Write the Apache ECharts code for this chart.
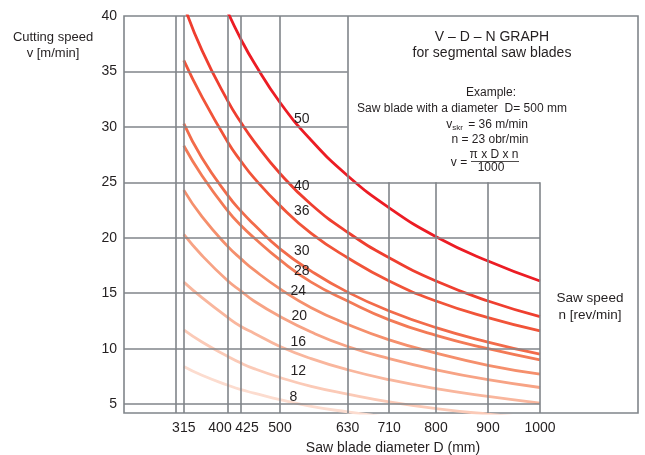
<!DOCTYPE html>
<html>
<head>
<meta charset="utf-8">
<script src="https://cdn.jsdelivr.net/npm/echarts@6/dist/echarts.min.js"></script>
<style>
  html, body { margin: 0; padding: 0; background: #fff; }
  #chart { width: 645px; height: 455px; }
</style>
</head>
<body>
<div id="chart"></div>
<script>
// values (D in mm, v in m/min)
var diameters = [315, 350, 400, 425, 450, 500, 560, 630, 710, 800, 900, 1000];
var speedNames = ['50', '40', '36', '30', '28', '24', '20', '16', '12', '8'];
var v50 = [null, null, 40.3, 37.9, 35.8, 32.2, 28.8, 25.6, 22.7, 20.1, 17.9, 16.1];
var v40 = [41.0, 36.9, 32.3, 30.4, 28.7, 25.8, 23.0, 20.5, 18.2, 16.1, 14.3, 12.9];
var v36 = [36.0, 32.7, 28.6, 26.9, 25.4, 22.9, 20.4, 18.2, 16.1, 14.3, 12.8, 11.6];
var v30 = [30.3, 27.2, 23.8, 22.4, 21.2, 19.0, 17.0, 15.1, 13.4, 11.9, 10.6, 9.5];
var v28 = [28.3, 25.6, 22.4, 21.1, 20.0, 18.0, 16.0, 14.3, 12.6, 11.2, 10.0, 9.0];
var v24 = [24.3, 21.9, 19.2, 18.1, 17.1, 15.4, 13.7, 12.2, 10.8, 9.6, 8.5, 7.7];
var v20 = [20.3, 18.4, 16.1, 15.2, 14.3, 12.9, 11.5, 10.2, 9.1, 8.1, 7.2, 6.5];
var v16 = [16.0, 14.6, 12.8, 12.0, 11.4, 10.2, 9.1, 8.1, 7.2, 6.4, 5.7, 5.1];
var v12 = [11.7, 10.6, 9.3, 8.7, 8.2, 7.4, 6.6, 5.9, 5.2, 4.6, 4.1, 3.7];
var v8 = [8.4, 7.6, 6.7, 6.3, 6.0, 5.4, 4.8, 4.3, 3.8, 3.4, 3.0, null];
var xTicks = [315, 400, 425, 500, 630, 710, 800, 900, 1000];
var yTicks = [5, 10, 15, 20, 25, 30, 35, 40];

var curves = [v50, v40, v36, v30, v28, v24, v20, v16, v12, v8];
var colors = ['#ec1c24', '#ef3e2f', '#f15439', '#f26b4a', '#f37a56', '#f58f6c',
  '#f7a385', '#f9b69d', '#fbcab7', '#fcdccf'];
// where the n labels sit, in data units
var labelSpots = [[542, 30.7], [542, 24.7], [542, 22.4], [542, 18.8], [542, 17.0],
  [535, 15.2], [537, 12.9], [535, 10.6], [535, 8.0], [526, 5.6]];

var FONT = '"Liberation Sans", Arial, sans-serif';
var TXT = '#231f20';
var GRID = '#80858a';
var X_MIN = 200, X_MAX = 1188.5, Y_MIN = 4.2, Y_MAX = 40;

function pairs(vals) {
  var out = [];
  vals.forEach(function (v, i) {
    if (v !== null) out.push([diameters[i], v]);
  });
  return out;
}

// grid lines (the reference leaves the top right corner free for the text box)
var gridSegs = [];
[300, 315, 400, 425, 500, 630].forEach(function (d) {
  gridSegs.push([{coord: [d, Y_MIN]}, {coord: [d, Y_MAX]}]);
});
[710, 800, 900, 1000].forEach(function (d) {
  gridSegs.push([{coord: [d, Y_MIN]}, {coord: [d, 25]}]);
});
[35, 30].forEach(function (v) {
  gridSegs.push([{coord: [X_MIN, v]}, {coord: [630, v]}]);
});
[25, 20, 15, 10, 5].forEach(function (v) {
  gridSegs.push([{coord: [X_MIN, v]}, {coord: [1000, v]}]);
});

var series = [{
  type: 'line',
  z: 1,
  data: [[X_MIN, Y_MIN]],
  showSymbol: false,
  lineStyle: {width: 0},
  silent: true,
  markLine: {
    silent: true,
    animation: false,
    symbol: ['none', 'none'],
    label: {show: false},
    lineStyle: {color: GRID, width: 1.6, type: 'solid'},
    data: gridSegs
  }
}];

curves.forEach(function (vals, i) {
  series.push({
    name: speedNames[i],
    type: 'line',
    z: 3,
    smooth: true,
    showSymbol: false,
    clip: true,
    data: pairs(vals),
    lineStyle: {color: colors[i], width: 2.8},
    markPoint: {
      silent: true,
      animation: false,
      symbol: 'circle',
      symbolSize: 1,
      itemStyle: {color: 'rgba(0,0,0,0)'},
      label: {
        show: true, position: 'inside', color: TXT,
        fontSize: 14, fontFamily: FONT,
        formatter: speedNames[i]
      },
      data: [{coord: labelSpots[i]}]
    }
  });
});

function txt(x, y, text, size, extra) {
  var style = {
    text: text, fill: TXT, fontSize: size, fontFamily: FONT,
    align: 'center', verticalAlign: 'middle',
    textAlign: 'center', textVerticalAlign: 'middle'
  };
  if (extra) for (var k in extra) style[k] = extra[k];
  return {type: 'text', x: x, y: y, z: 10, silent: true, style: style};
}

var chart = echarts.init(document.getElementById('chart'), null, {renderer: 'canvas'});
chart.setOption({
  animation: false,
  backgroundColor: '#fff',
  grid: {
    left: 124, right: 7, top: 16, bottom: 42,
    show: true, borderColor: GRID, borderWidth: 1.6, backgroundColor: '#fff'
  },
  xAxis: {
    type: 'value', min: X_MIN, max: X_MAX,
    axisLine: {show: false}, axisTick: {show: false}, splitLine: {show: false},
    axisLabel: {
      customValues: xTicks, margin: 8, color: TXT, fontSize: 14, fontFamily: FONT,
      formatter: function (v) {
        if (v === 400) return '{l|400}';
        if (v === 425) return '{r|425}';
        return String(v);
      },
      rich: {
        l: {fontSize: 14, fontFamily: FONT, color: TXT, padding: [0, 16, 0, 0]},
        r: {fontSize: 14, fontFamily: FONT, color: TXT, padding: [0, 0, 0, 12]}
      }
    }
  },
  yAxis: {
    type: 'value', min: Y_MIN, max: Y_MAX,
    axisLine: {show: false}, axisTick: {show: false}, splitLine: {show: false},
    axisLabel: {customValues: yTicks, margin: 7, color: TXT, fontSize: 14, fontFamily: FONT}
  },
  series: series,
  graphic: [
    txt(53, 45, 'Cutting speed\nv [m/min]', 13, {lineHeight: 16}),
    txt(492, 45, 'V \u2013 D \u2013 N GRAPH\nfor segmental saw blades', 14, {lineHeight: 16}),
    txt(491, 93, 'Example:', 12),
    txt(462, 109, 'Saw blade with a diameter  D= 500 mm', 12),
    txt(487, 125, '{a|v}{s|skr}{a| = 36 m/min}', 12, {
      rich: {
        a: {fontSize: 12, fontFamily: FONT, fill: TXT, color: TXT},
        s: {fontSize: 8, fontFamily: FONT, fill: TXT, color: TXT, padding: [6, 2, 0, 0]}
      }
    }),
    txt(490, 140, 'n = 23 obr/min', 12),
    txt(459, 163, 'v =', 12),
    txt(494, 155, '\u03c0 x D x n', 12),
    {
      type: 'line', z: 10, silent: true,
      shape: {x1: 471, y1: 161.5, x2: 519, y2: 161.5},
      style: {stroke: TXT, lineWidth: 0.8}
    },
    txt(491, 168, '1000', 12),
    txt(590, 307, 'Saw speed\nn [rev/min]', 13.5, {lineHeight: 17}),
    txt(393, 448, 'Saw blade diameter D (mm)', 14)
  ]
});
</script>
</body>
</html>
